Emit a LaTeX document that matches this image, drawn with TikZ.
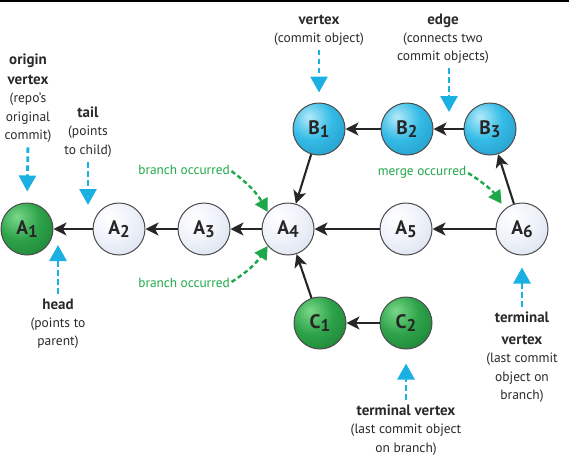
\documentclass[tikz,border=0pt]{standalone}
\usepackage{fontspec}
\setmainfont{PT Sans}
\usetikzlibrary{arrows.meta,positioning}
\definecolor{pointcyan}{HTML}{1BB0E2}
\definecolor{pointgreen}{HTML}{1FA84A}
\definecolor{notegray}{HTML}{2A2A2A}
\definecolor{gHi}{HTML}{7AD88A}
\definecolor{gMid}{HTML}{2EA34A}
\definecolor{gLo}{HTML}{12702A}
\definecolor{cHi}{HTML}{B4EAF9}
\definecolor{cMid}{HTML}{35BCE6}
\definecolor{cLo}{HTML}{1887B8}
\definecolor{wHi}{HTML}{FFFFFF}
\definecolor{wMid}{HTML}{EDF1F9}
\definecolor{wLo}{HTML}{CDD6E6}
\pgfdeclareradialshading{greenball}{\pgfpoint{-10bp}{12bp}}{color(0bp)=(gHi); color(20bp)=(gMid); color(52bp)=(gLo); color(100bp)=(gLo)}
\pgfdeclareradialshading{cyanball}{\pgfpoint{-10bp}{12bp}}{color(0bp)=(cHi); color(20bp)=(cMid); color(52bp)=(cLo); color(100bp)=(cLo)}
\pgfdeclareradialshading{paleball}{\pgfpoint{-10bp}{12bp}}{color(0bp)=(wHi); color(22bp)=(wMid); color(52bp)=(wLo); color(100bp)=(wLo)}
\newcommand\cid[2]{#1\raisebox{-2.5pt}{\fontsize{17}{17}\selectfont #2}}
\newcommand\hd[1]{{\fontsize{15}{18}\selectfont\bfseries #1}}
\tikzset{
  commit/.style={circle, draw=black!70, line width=1pt, minimum size=52pt, inner sep=0pt,
    font=\fontsize{19.5}{19.5}\selectfont\bfseries, text=black!85},
  gcommit/.style={commit, shading=greenball},
  ccommit/.style={commit, shading=cyanball},
  pcommit/.style={commit, shading=paleball},
  link/.style={-{Stealth[length=13pt,width=13pt,inset=3.5pt]}, line width=2.1pt, black!85},
  note/.style={align=center, inner sep=0pt, text=notegray, font=\fontsize{13.5}{18.2}\selectfont},
  gnote/.style={inner sep=0pt, text=pointgreen, font=\fontsize{13.3}{15}\selectfont},
  pointer/.style={pointcyan, line width=2.8pt, dash pattern=on 5.5pt off 3.5pt,
    -{Triangle[length=16pt,width=17pt]}},
  gpointer/.style={pointgreen, line width=2.4pt, dash pattern=on 4.5pt off 3pt,
    -{Triangle[length=13pt,width=14pt]}}
}
\begin{document}
\begin{tikzpicture}[x=1pt,y=-1pt]
\useasboundingbox (0,0) rectangle (569,466);
\draw[line width=1.5pt] (0,1) -- (569,1);

% commits
\node[gcommit] (A1) at (27,229) {\cid{A}{1}};
\node[pcommit] (A2) at (119,229) {\cid{A}{2}};
\node[pcommit] (A3) at (204,229) {\cid{A}{3}};
\node[pcommit] (A4) at (288,229) {\cid{A}{4}};
\node[pcommit] (A5) at (406,229) {\cid{A}{5}};
\node[pcommit] (A6) at (522,229) {\cid{A}{6}};
\node[ccommit] (B1) at (319,129) {\cid{B}{1}};
\node[ccommit] (B2) at (407,129) {\cid{B}{2}};
\node[ccommit] (B3) at (490,129) {\cid{B}{3}};
\node[gcommit] (C1) at (320,323) {\cid{C}{1}};
\node[gcommit] (C2) at (406,323) {\cid{C}{2}};

\draw[link] (A2) -- (A1);
\draw[link] (A3) -- (A2);
\draw[link] (A4) -- (A3);
\draw[link] (A5) -- (A4);
\draw[link] (A6) -- (A5);
\draw[link] (B1) -- (A4);
\draw[link] (B2) -- (B1);
\draw[link] (B3) -- (B2);
\draw[link] (A6) -- (B3);
\draw[link] (C1) -- (A4);
\draw[link] (C2) -- (C1);

% notes
\node[note] (originnote) at (28,98) {\hd{origin}\\[2pt]\hd{vertex}\\(repo's\\original\\commit)};
\node[note] (tailnote) at (88,132) {\hd{tail}\\(points\\to child)};
\node[note] (headnote) at (58,324) {\hd{head}\\(points to\\parent)};
\node[note] (vertexnote) at (319,30) {\hd{vertex}\\(commit object)};
\node[note] (edgenote) at (443,39) {\hd{edge}\\(connects two\\commit objects)};
\node[note] (termA) at (522,357) {\hd{terminal}\\[4pt]\hd{vertex}\\(last commit\\object on\\branch)};
\node[note] (termC) at (406,430) {\hd{terminal vertex}\\(last commit object\\on branch)};
\node[gnote] (branchup) at (184,170) {branch occurred};
\node[gnote] (branchdown) at (184,283) {branch occurred};
\node[gnote] (mergenote) at (422,172) {merge occurred};

\coordinate (tailpt) at (88,205);
\coordinate (headpt) at (58,245);
\coordinate (edgept) at (449,112);

\draw[pointer, shorten <=5pt, shorten >=11pt] (originnote.south) -- (A1.north);
\draw[pointer, shorten <=5pt] (tailnote.south -| tailpt) -- (tailpt);
\draw[pointer, shorten <=5pt] (headnote.north) -- (headpt);
\draw[pointer, shorten <=4pt, shorten >=10pt] (vertexnote.south) -- (B1.north);
\draw[pointer, shorten <=4pt] (edgenote.south -| edgept) -- (edgept);
\draw[pointer, shorten <=5pt, shorten >=12pt] (termA.north) -- (A6.south);
\draw[pointer, shorten <=5pt, shorten >=14pt] (termC.north) -- (C2.south);

\draw[gpointer, shorten <=2pt] (branchup.east) to[bend left=12] (A4.140);
\draw[gpointer, shorten <=2pt] (branchdown.east) to[bend right=12] (A4.220);
\draw[gpointer, shorten <=2pt, shorten >=6pt] (mergenote.east) to[bend left=12] (A6.130);
\end{tikzpicture}
\end{document}
